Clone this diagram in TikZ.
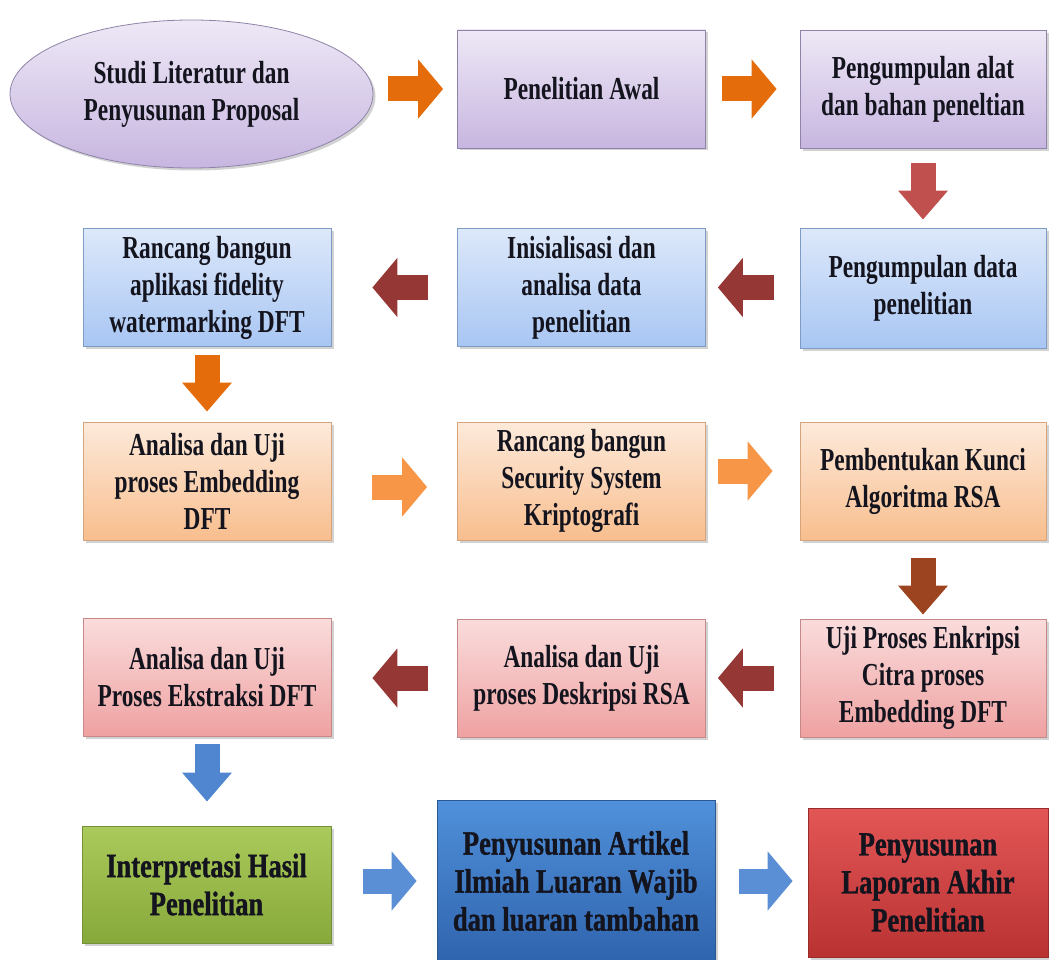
\documentclass[tikz,border=0pt]{standalone}
\usepackage{fontspec}
\setmainfont{Liberation Serif}
\newfontfamily\boxfont[FakeStretch=0.73]{Liberation Serif}
\newfontfamily\bigboxfont[FakeStretch=0.78,FakeBold=1]{Liberation Serif}
\usetikzlibrary{arrows.meta,shadows,shapes.geometric,calc}

\definecolor{purpletop}{HTML}{EEE8F6}
\definecolor{purplebot}{HTML}{C7B6E0}
\definecolor{purpleline}{HTML}{8E84A8}
\definecolor{bluetop}{HTML}{DDE8FA}
\definecolor{bluebot}{HTML}{A8C6F3}
\definecolor{blueline}{HTML}{7E9BC3}
\definecolor{orangetop}{HTML}{FDEADB}
\definecolor{orangebot}{HTML}{F8BE8E}
\definecolor{orangeline}{HTML}{D6A47A}
\definecolor{pinktop}{HTML}{FADCDC}
\definecolor{pinkbot}{HTML}{EFA1A1}
\definecolor{pinkline}{HTML}{C68989}
\definecolor{greentop}{HTML}{ABCA5C}
\definecolor{greenbot}{HTML}{87A83A}
\definecolor{greenline}{HTML}{74913A}
\definecolor{deeptop}{HTML}{5090DA}
\definecolor{deepbot}{HTML}{2F64AD}
\definecolor{deepline}{HTML}{2B5893}
\definecolor{redtop}{HTML}{E35656}
\definecolor{redbot}{HTML}{B93232}
\definecolor{redline}{HTML}{982C2A}
\definecolor{arrorange}{HTML}{E46C0A}
\definecolor{arrlight}{HTML}{F79646}
\definecolor{arrred}{HTML}{C0504D}
\definecolor{arrdark}{HTML}{953735}
\definecolor{arrbrown}{HTML}{9C4420}
\definecolor{arrblue}{HTML}{4F86CF}
\definecolor{arrsky}{HTML}{5A8FD6}
\definecolor{inktext}{HTML}{14141E}

\tikzset{
  flowbox/.style={draw, line width=0.8pt, minimum width=248pt, minimum height=118pt,
    align=center, inner sep=2pt, text=inktext,
    font=\boxfont\bfseries\fontsize{32pt}{37pt}\selectfont,
    drop shadow={shadow xshift=2.5pt, shadow yshift=-2.5pt, opacity=0.35}},
  purplebox/.style={flowbox, draw=purpleline, top color=purpletop, bottom color=purplebot},
  bluebox/.style={flowbox, draw=blueline, top color=bluetop, bottom color=bluebot},
  orangebox/.style={flowbox, draw=orangeline, top color=orangetop, bottom color=orangebot},
  pinkbox/.style={flowbox, draw=pinkline, top color=pinktop, bottom color=pinkbot},
  bigbox/.style={flowbox, font=\bigboxfont\bfseries\fontsize{34pt}{38pt}\selectfont},
  harrow/.style={line width=25pt, -{Triangle[length=25pt,width=58pt]}},
  varrow/.style={line width=25pt, -{Triangle[length=29pt,width=48pt]}}
}

\begin{document}
\begin{tikzpicture}[x=1pt,y=1pt,yscale=-1,xscale=1]
  \fill[white] (0,0) rectangle (1049,960);
  \useasboundingbox (0,0) rectangle (1049,960);

  % row 1
  \node[purplebox, ellipse, minimum width=363pt, minimum height=148pt, inner sep=0pt] (studi) at (191.5,94) {Studi Literatur dan\\Penyusunan Proposal};
  \node[purplebox] (awal) at (581.5,89) {Penelitian Awal};
  \node[purplebox, minimum width=246pt] (alat) at (923,89.5) {Pengumpulan alat\\dan bahan peneltian};

  % row 2
  \node[bluebox, minimum width=246pt, minimum height=120pt] (datapen) at (923,288) {Pengumpulan data\\penelitian};
  \node[bluebox] (inisial) at (581.5,287.5) {Inisialisasi dan\\analisa data\\penelitian};
  \node[bluebox] (rancangapp) at (207,287.5) {Rancang bangun\\aplikasi fidelity\\watermarking DFT};

  % row 3
  \node[orangebox] (embed) at (207,481) {Analisa dan Uji\\proses Embedding\\DFT};
  \node[orangebox] (security) at (581.5,481) {Rancang bangun\\Security System\\Kriptografi};
  \node[orangebox, minimum width=246pt] (kunci) at (923,481) {Pembentukan Kunci\\Algoritma RSA};

  % row 4
  \node[pinkbox, minimum width=246pt] (enkripsi) at (923,678) {Uji Proses Enkripsi\\Citra proses\\Embedding DFT};
  \node[pinkbox] (deskripsi) at (581.5,678) {Analisa dan Uji\\proses Deskripsi RSA};
  \node[pinkbox] (ekstraksi) at (207,677) {Analisa dan Uji\\Proses Ekstraksi DFT};

  % row 5
  \node[bigbox, draw=greenline, top color=greentop, bottom color=greenbot, minimum width=249pt, minimum height=117pt] (interpretasi) at (206.5,884.5) {Interpretasi Hasil\\Penelitian};
  \node[bigbox, draw=deepline, top color=deeptop, bottom color=deepbot, minimum width=278pt, minimum height=162pt] (artikel) at (576,881) {Penyusunan Artikel\\Ilmiah Luaran Wajib\\dan luaran tambahan};
  \node[bigbox, draw=redline, top color=redtop, bottom color=redbot, minimum width=240pt, minimum height=149pt] (laporan) at (928,882.5) {Penyusunan\\Laporan Akhir\\Penelitian};

  % arrows
  \draw[harrow, arrorange, shorten <=15pt, shorten >=14pt] (studi.east |- awal.west) -- (awal.west);
  \draw[harrow, arrorange, shorten <=16pt, shorten >=23pt] (awal.east) -- (alat.west |- awal.east);
  \draw[varrow, arrred, shorten <=14pt, shorten >=8pt] (alat.south) -- (datapen.north);
  \draw[harrow, arrdark, shorten <=26pt, shorten >=12pt] (datapen.west |- inisial.east) -- (inisial.east);
  \draw[harrow, arrdark, shorten <=29pt, shorten >=41pt] (inisial.west) -- (rancangapp.east);
  \draw[varrow, arrorange, shorten <=8pt, shorten >=10pt] (rancangapp.south) -- (embed.north);
  \draw[harrow, arrlight, shorten <=41pt, shorten >=30pt] ($(embed.east)+(0,6)$) -- ($(security.west)+(0,6)$);
  \draw[harrow, arrlight, shorten <=12pt, shorten >=27pt] ($(security.east)+(0,-10)$) -- ($(kunci.west)+(0,-10)$);
  \draw[varrow, arrbrown, shorten <=18pt, shorten >=4pt] (kunci.south) -- (enkripsi.north);
  \draw[harrow, arrdark, shorten <=26pt, shorten >=12pt] (enkripsi.west) -- (deskripsi.east);
  \draw[harrow, arrdark, shorten <=29pt, shorten >=41pt] (deskripsi.west) -- (ekstraksi.east |- deskripsi.west);
  \draw[varrow, arrblue, shorten <=8pt, shorten >=24pt] (ekstraksi.south) -- (interpretasi.north -| ekstraksi.south);
  \draw[harrow, arrsky, shorten <=32pt, shorten >=20pt] (interpretasi.east |- artikel.west) -- (artikel.west);
  \draw[harrow, arrsky, shorten <=24pt, shorten >=15pt] (artikel.east) -- (laporan.west |- artikel.east);
\end{tikzpicture}
\end{document}
